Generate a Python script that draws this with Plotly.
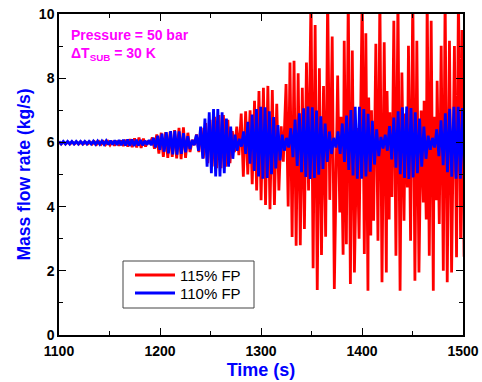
import numpy as np
import plotly.graph_objects as go

# ---------------- data ----------------
# 110% FP: regular sampling clock, one peak + one trough per cycle
blue_t0 = 1100.0
blue_period = 4.25
blue_peak = [6.03, 6.03, 6.03, 6.03, 6.03, 6.03, 6.03, 6.03, 6.04, 6.04,
             6.04, 6.05, 6.05, 6.06, 6.07, 6.08, 6.09, 6.09, 6.08, 6.07,
             6.05, 6.07, 6.14, 6.21, 6.27, 6.32, 6.35, 6.36, 6.34, 6.29,
             6.19, 6.07, 6.24, 6.49, 6.74, 6.94, 7.04, 7.04, 6.94, 6.74,
             6.49, 6.24, 6.11, 6.34, 6.64, 6.87, 7.04, 7.11, 7.09, 6.97,
             6.79, 6.54, 6.24, 6.14, 6.44, 6.71, 6.91, 7.06, 7.12, 7.09,
             6.99, 6.81, 6.59, 6.34, 6.14, 6.34, 6.59, 6.84, 7.01, 7.11,
             7.11, 7.04, 6.89, 6.67, 6.41, 6.17, 6.24, 6.51, 6.77, 6.97,
             7.09, 7.12, 7.07, 6.94, 6.74, 6.49, 6.21, 6.14, 6.41, 6.69,
             6.91, 7.05, 7.11, 7.11, 7.07]
blue_trough = [5.95, 5.95, 5.95, 5.95, 5.95, 5.95, 5.95, 5.95, 5.94, 5.94,
               5.94, 5.93, 5.93, 5.92, 5.91, 5.90, 5.89, 5.89, 5.90, 5.91,
               5.93, 5.91, 5.84, 5.77, 5.71, 5.66, 5.63, 5.62, 5.64, 5.69,
               5.79, 5.91, 5.74, 5.49, 5.24, 5.04, 4.94, 4.94, 5.04, 5.24,
               5.49, 5.74, 5.87, 5.64, 5.34, 5.11, 4.94, 4.87, 4.89, 5.01,
               5.19, 5.44, 5.74, 5.84, 5.54, 5.27, 5.07, 4.92, 4.86, 4.89,
               4.99, 5.17, 5.39, 5.64, 5.84, 5.64, 5.39, 5.14, 4.97, 4.87,
               4.87, 4.94, 5.09, 5.31, 5.57, 5.81, 5.74, 5.47, 5.21, 5.01,
               4.89, 4.86, 4.91, 5.04, 5.24, 5.49, 5.77, 5.84, 5.57, 5.29,
               5.07, 4.93, 4.87, 4.87, 4.91]

# 115% FP: time of each cycle peak, peak value, following trough value
red_t = [1100, 1104.4, 1108.8, 1113.2, 1117.6, 1122, 1126.4, 1130.8, 1135.2, 1139.6,
         1144, 1148.4, 1152.8, 1157.2, 1161.6, 1166, 1170.4, 1174.8, 1179.2, 1183.6,
         1188, 1192.4, 1196.8, 1201.2, 1205.6, 1210, 1214.4, 1218.8, 1223.2, 1227.6,
         1232, 1236.4, 1240.8, 1245.2, 1249.6, 1254, 1258.4, 1262.8, 1267.2, 1271.6,
         1276, 1280.4, 1284.8, 1289.2, 1293.6, 1298, 1302.4, 1306.8, 1311.2, 1315.6,
         1320, 1324.8, 1328.7, 1332.7, 1336.8, 1340.9, 1345, 1349.5, 1353.6, 1357.8,
         1361.9, 1366, 1370.5, 1375.9, 1379.2, 1382.4, 1386.4, 1390.4, 1395, 1400.2,
         1403.8, 1406.6, 1409.4, 1413.7, 1417.7, 1422, 1424.8, 1427.6, 1431.5, 1435.6,
         1439.5, 1442.8, 1446, 1450.3, 1454.3, 1458.6, 1461.5, 1464.5, 1468.5, 1471.4,
         1474.4, 1478.4, 1482.3, 1486.6, 1491.5, 1495.5, 1499]
red_peak = [6.01, 6.01, 6.01, 6.01, 6.01, 6.01, 6.01, 6.01, 6.02, 6.02,
            6.02, 6.03, 6.04, 6.05, 6.06, 6.08, 6.10, 6.13, 6.15, 6.12,
            6.05, 6.15, 6.25, 6.30, 6.32, 6.33, 6.38, 6.45, 6.47, 6.30,
            6.08, 6.25, 6.45, 6.60, 6.70, 6.80, 6.85, 6.85, 6.70, 6.35,
            6.49, 6.90, 6.97, 7.00, 7.30, 7.60, 7.70, 7.76, 7.63, 7.20,
            6.50, 7.82, 8.49, 8.54, 8.15, 7.70, 8.49, 10.6, 9.66, 8.31,
            7.76, 10.6, 9.30, 8.08, 6.80, 9.17, 10.6, 8.86, 6.45, 10.6,
            9.40, 7.40, 7.00, 9.07, 10.6, 9.12, 7.60, 6.94, 9.79, 10.6,
            8.18, 6.90, 9.01, 10.6, 9.17, 6.99, 7.30, 10.6, 9.79, 6.80,
            7.92, 9.01, 10.6, 9.17, 9.00, 10.6, 9.50]
red_trough = [5.95, 5.95, 5.95, 5.95, 5.95, 5.95, 5.95, 5.95, 5.94, 5.94,
              5.93, 5.92, 5.90, 5.90, 5.89, 5.87, 5.85, 5.84, 5.83, 5.87,
              5.95, 5.80, 5.65, 5.55, 5.52, 5.55, 5.50, 5.48, 5.52, 5.70,
              5.92, 5.70, 5.50, 5.35, 5.25, 5.20, 5.20, 5.24, 5.35, 5.70,
              5.60, 4.93, 5.00, 4.70, 4.50, 4.20, 4.05, 3.92, 4.05, 4.50,
              5.40, 4.00, 3.05, 2.78, 2.80, 3.30, 4.50, 2.08, 1.40, 2.49,
              3.06, 4.21, 1.43, 3.82, 2.50, 2.83, 1.59, 1.95, 3.00, 2.52,
              1.38, 3.10, 3.56, 2.94, 1.64, 1.95, 3.60, 4.30, 2.47, 1.38,
              3.56, 4.60, 2.94, 1.69, 1.95, 4.13, 3.60, 2.47, 1.38, 4.20,
              3.46, 2.00, 1.64, 1.95, 2.42, 3.00, 2.44]

series_names = ["115% FP", "110% FP"]
series_colors = ["#FF0000", "#0000FF"]
x_ticks = [1100, 1200, 1300, 1400, 1500]
y_ticks = [0, 2, 4, 6, 8, 10]

# ---------------- build sample sequences ----------------
bt = []
bv = []
for k, (p, q) in enumerate(zip(blue_peak, blue_trough)):
    t = blue_t0 + k * blue_period
    bt += [t, t + blue_period / 2]
    bv += [p, q]

rt = []
rv = []
for t, p, q in zip(red_t, red_peak, red_trough):
    rt += [t, t + 2.1]
    rv += [p, q]

FONT = "Arial, 'Liberation Sans', sans-serif"

fig = go.Figure()
fig.add_trace(go.Scatter(x=rt, y=rv, mode="lines", name=series_names[0],
                         line=dict(color=series_colors[0], width=2.8)))
fig.add_trace(go.Scatter(x=bt, y=bv, mode="lines", name=series_names[1],
                         line=dict(color=series_colors[1], width=2.8)))

axis_common = dict(showline=True, linecolor="black", linewidth=1.5, mirror="allticks",
                   ticks="inside", ticklen=7, tickwidth=1.2, tickcolor="black",
                   showgrid=False, zeroline=False, automargin=False,
                   tickfont=dict(family=FONT, size=14, color="black", weight="bold"))

fig.update_xaxes(range=[1100, 1500], tickvals=x_ticks, ticklabelstandoff=2,
                 minor=dict(dtick=50, ticks="inside", ticklen=4, tickwidth=1.2, tickcolor="black"),
                 title=dict(text="Time (s)", standoff=6,
                            font=dict(family=FONT, size=18, color="#0000FF", weight="bold")),
                 **axis_common)
fig.update_yaxes(range=[0, 10], tickvals=y_ticks,
                 minor=dict(dtick=1, ticks="inside", ticklen=4, tickwidth=1.2, tickcolor="black"),
                 title=dict(text="Mass flow rate (kg/s)", standoff=4,
                            font=dict(family=FONT, size=17.5, color="#0000FF", weight="bold")),
                 **axis_common)

fig.add_annotation(xref="paper", yref="paper", x=0.025, y=0.935, xanchor="left", yanchor="middle",
                   text="Pressure = 50 bar", showarrow=False,
                   font=dict(family=FONT, size=14, color="#FF00FF", weight="bold"))
fig.add_annotation(xref="paper", yref="paper", x=0.025, y=0.875, xanchor="left", yanchor="middle",
                   text="ΔT<sub>SUB</sub> = 30 K", showarrow=False,
                   font=dict(family=FONT, size=14, color="#FF00FF", weight="bold"))

# ---------------- hand-drawn legend box (paper coords) ----------------
L, T, W, H = 59, 14, 404, 321
def px(xp):
    return (xp - L) / W
def py(yp):
    return (T + H - yp) / H

fig.add_shape(type="rect", xref="paper", yref="paper",
              x0=px(123), x1=px(254), y0=py(308), y1=py(261),
              line=dict(color="#444444", width=1), fillcolor="white", layer="above")
for i, (nm, col) in enumerate(zip(series_names, series_colors)):
    yy = 275 + i * 18
    fig.add_shape(type="line", xref="paper", yref="paper",
                  x0=px(135), x1=px(175), y0=py(yy), y1=py(yy),
                  line=dict(color=col, width=2.8), layer="above")
    fig.add_annotation(xref="paper", yref="paper", x=px(178), y=py(yy),
                       xanchor="left", yanchor="middle", text=nm, showarrow=False,
                       font=dict(family=FONT, size=15, color="black"))

fig.update_layout(
    width=482, height=382,
    margin=dict(l=L, r=482 - L - W, t=T, b=382 - T - H),
    paper_bgcolor="white", plot_bgcolor="white",
    showlegend=False,
)

fig.write_html("out.html")
